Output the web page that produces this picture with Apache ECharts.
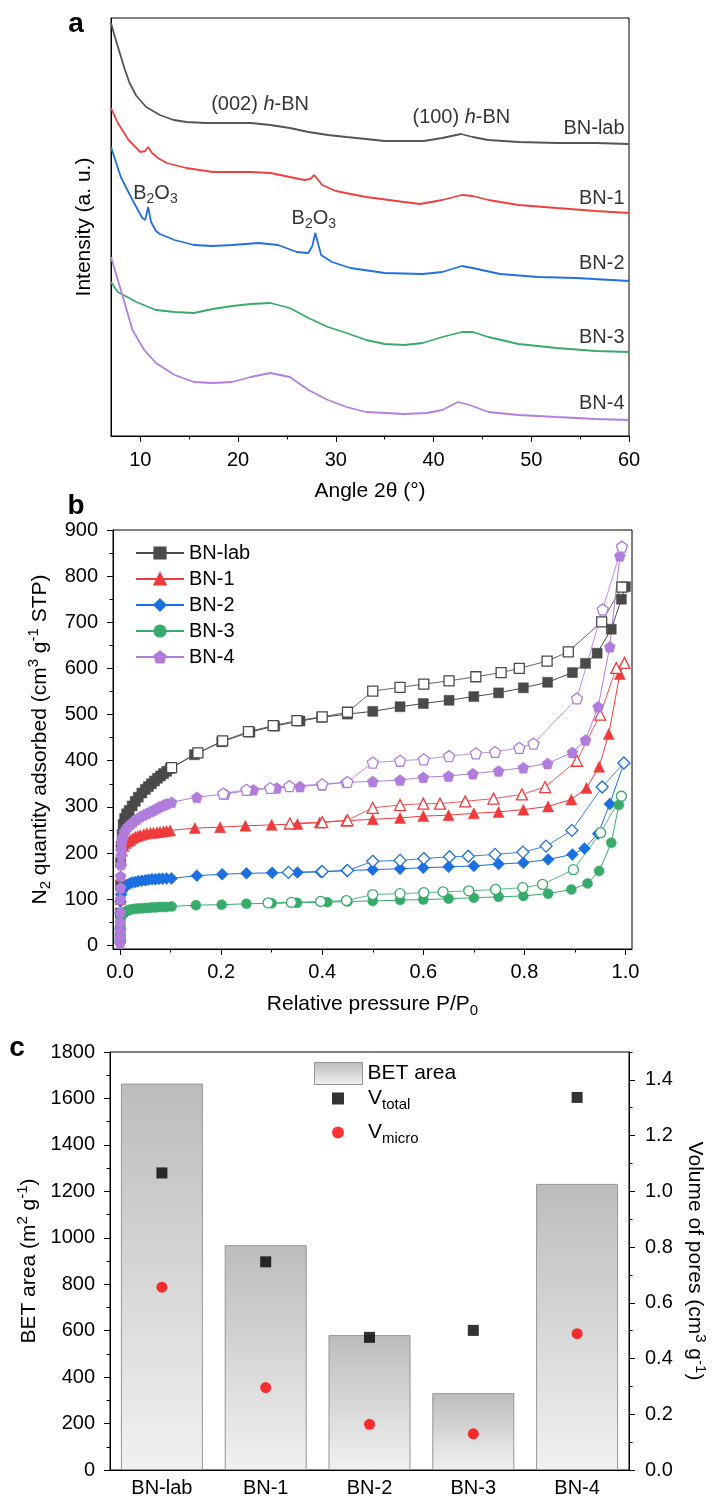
<!DOCTYPE html>
<html><head><meta charset="utf-8">
<script src="https://cdn.jsdelivr.net/npm/echarts@6/dist/echarts.min.js"></script>
<style>html,body{margin:0;padding:0;background:#fff}#c{width:712px;height:1497px}</style>
</head><body><div id="c"></div>
<script>
// ---------- Panel a: XRD patterns [angle 2θ, intensity (a.u.)] ----------
const xrdLab = [[7,413],[7.4,399],[7.9,383],[8.4,367],[8.9,353],[9.6,340],[10.6,329],[12,321],[13.4,316],[14.7,314],[16.7,313],[19.4,313],[21.3,313],[23.3,311],[25.3,308],[27.2,304],[29.2,301],[31.1,299],[33.1,297],[35,295],[37,295],[39,295],[40.9,298],[42.8,302],[44,299],[45.6,296],[48.7,294],[52.6,293],[56.6,293],[60,292]];
const xrd1 = [[7,328],[7.7,313],[8.8,296],[10,284],[10.5,285],[10.8,289],[11.2,283],[11.8,278],[12.7,273],[14.7,268],[17.4,264],[21.3,264],[23.3,263],[25.3,259],[26.8,256],[27.4,257],[27.8,261],[28.2,256],[28.6,251],[30,245],[33.1,239],[37,234],[38.6,232],[40.9,236],[42.9,241],[44,240],[45.6,236],[48.7,231],[52.6,228],[56.6,225],[60,223]];
const xrd2 = [[7,289],[8,259],[9.2,236],[10.2,218],[10.5,216],[10.8,229],[11.1,214],[11.6,205],[12,202],[13.5,196],[15.5,191],[17.4,190],[19.4,191],[22.1,193],[24.1,191],[26,184],[27.2,183],[27.6,190],[27.9,203],[28.2,192],[28.5,181],[29.6,174],[31.5,168],[35,163],[38.9,162],[40.9,164],[42.9,170],[44,168],[46.8,162],[50.7,159],[54.6,158],[60,155]];
const xrd3 = [[7,154],[7.7,144],[9.6,134],[11.6,126],[13.5,124],[15.5,123],[17.4,127],[19.4,130],[21.3,132],[23.3,133],[25.3,128],[27.2,118],[29.2,109],[31.1,103],[33.1,96],[35,92],[37,91],[38.9,93],[40.9,99],[42.9,104],[44,104],[45.6,99],[48.7,92],[52.6,88],[56.6,85],[60,84]];
const xrd4 = [[7,179],[7.7,156],[8.4,133],[9.2,106],[10.4,86],[11.6,73],[13.5,61],[15.5,54],[17.4,53],[19.4,54],[21.3,59],[23.3,63],[25.3,59],[27.2,46],[29.2,36],[31.1,29],[33.1,24],[37,22],[39.3,23],[40.9,26],[42.5,34],[43.7,31],[45.6,24],[48.7,21],[52.6,19],[56.6,17],[60,16]];
const xrdTicks = [10,20,30,40,50,60];
const xrdMinorTicks = [15,25,35,45,55];
const xrdNotes = [
  {text:'(002) {i|h}-BN', x:22.3, y:331, align:'center'},
  {text:'(100) {i|h}-BN', x:42.9, y:318, align:'center'},
  {text:'BN-lab', x:59.6, y:307, align:'right'},
  {text:'BN-1', x:59.6, y:237, align:'right'},
  {text:'B{sub|2}O{sub|3}', x:11.6, y:242, align:'center'},
  {text:'B{sub|2}O{sub|3}', x:27.8, y:217, align:'center'},
  {text:'BN-2', x:59.6, y:172, align:'right'},
  {text:'BN-3', x:59.6, y:98, align:'right'},
  {text:'BN-4', x:59.6, y:32, align:'right'}
];

// ---------- Panel b: N2 isotherms [P/P0, quantity adsorbed] ----------
const adsLab = [[0.0001,20],[0.0003,70],[0.0006,130],[0.001,180],[0.002,215],[0.004,240],[0.006,262],[0.009,275],[0.013,285],[0.018,292],[0.024,302],[0.03,312],[0.036,321],[0.043,330],[0.05,338],[0.056,344],[0.062,350],[0.068,356],[0.074,362],[0.08,367],[0.086,372],[0.092,377],[0.099,383],[0.147,413],[0.201,441],[0.257,462],[0.306,475],[0.356,486],[0.399,494],[0.45,501],[0.5,507],[0.554,517],[0.6,524],[0.651,531],[0.7,539],[0.749,547],[0.798,558],[0.846,570],[0.895,591],[0.921,611],[0.944,633],[0.972,685],[0.992,750],[1.0,777]];
const desLab = [[0.993,776],[0.953,701],[0.887,636],[0.845,616],[0.79,600],[0.754,591],[0.704,582],[0.651,573],[0.601,566],[0.554,559],[0.5,551],[0.45,505],[0.4,495],[0.35,487],[0.303,476],[0.254,463],[0.203,443],[0.154,417],[0.102,385]];
const ads1 = [[0.0001,15],[0.0003,50],[0.0006,100],[0.001,150],[0.002,185],[0.004,205],[0.007,215],[0.01,221],[0.015,225],[0.02,228],[0.025,232],[0.03,235],[0.035,237],[0.04,239],[0.047,241],[0.053,243],[0.06,244],[0.066,244],[0.073,245],[0.079,246],[0.086,247],[0.092,248],[0.099,249],[0.148,254],[0.198,256],[0.248,259],[0.3,261],[0.351,263],[0.395,266],[0.447,270],[0.5,273],[0.554,276],[0.6,280],[0.65,282],[0.7,286],[0.749,289],[0.798,294],[0.847,301],[0.893,316],[0.923,341],[0.948,387],[0.967,458],[0.989,588],[0.998,612]];
const des1 = [[0.998,612],[0.982,601],[0.95,500],[0.904,400],[0.841,343],[0.795,327],[0.739,318],[0.683,312],[0.633,307],[0.6,307],[0.554,304],[0.5,298],[0.45,271],[0.4,267],[0.336,264]];
const ads2 = [[0.0001,10],[0.0003,35],[0.0006,70],[0.001,95],[0.002,110],[0.004,118],[0.007,123],[0.01,127],[0.014,131],[0.019,134],[0.024,136],[0.03,137],[0.036,139],[0.043,140],[0.05,141],[0.056,142],[0.063,143],[0.07,143],[0.077,144],[0.084,144],[0.092,145],[0.102,145],[0.152,151],[0.202,154],[0.25,156],[0.301,157],[0.351,158],[0.397,159],[0.448,162],[0.5,164],[0.554,166],[0.6,168],[0.65,170],[0.7,172],[0.749,176],[0.798,179],[0.847,186],[0.895,197],[0.919,210],[0.946,242],[0.969,306],[0.997,395]];
const des2 = [[0.997,395],[0.954,343],[0.894,249],[0.843,215],[0.797,202],[0.742,197],[0.689,193],[0.652,192],[0.601,188],[0.554,184],[0.5,182],[0.45,162],[0.4,160],[0.333,158]];
const ads3 = [[0.0001,8],[0.0003,25],[0.0006,45],[0.001,58],[0.002,64],[0.004,67],[0.007,69],[0.01,72],[0.014,75],[0.019,77],[0.024,78],[0.03,79],[0.036,80],[0.043,80],[0.05,81],[0.056,81],[0.063,82],[0.07,82],[0.077,83],[0.084,83],[0.092,83],[0.102,84],[0.15,87],[0.201,88],[0.25,90],[0.3,91],[0.35,92],[0.41,93.5],[0.45,95],[0.5,96],[0.554,98],[0.6,99],[0.65,101],[0.7,103],[0.749,105],[0.798,107],[0.847,112],[0.893,121],[0.925,134],[0.948,161],[0.972,222],[0.987,304],[0.992,323]];
const des3 = [[0.992,323],[0.951,244],[0.897,164],[0.836,132],[0.797,125],[0.743,121],[0.69,118],[0.639,116],[0.601,114],[0.554,112],[0.5,110],[0.448,97],[0.397,95],[0.339,93],[0.293,92]];
const ads4 = [[0.00005,5],[0.0001,15],[0.0002,32],[0.0003,50],[0.0004,72],[0.0006,100],[0.0008,125],[0.001,150],[0.0015,175],[0.002,195],[0.0025,208],[0.003,220],[0.004,228],[0.005,235],[0.008,245],[0.012,252],[0.016,258],[0.021,263],[0.026,268],[0.033,273],[0.04,279],[0.047,283],[0.053,286],[0.06,290],[0.066,293],[0.073,297],[0.079,301],[0.086,304],[0.092,307],[0.102,310],[0.152,321],[0.208,328],[0.264,337],[0.31,341],[0.356,344],[0.399,348],[0.447,353],[0.5,355],[0.554,358],[0.6,364],[0.65,367],[0.698,372],[0.749,378],[0.798,385],[0.846,394],[0.895,418],[0.921,445],[0.946,517],[0.969,647],[0.989,844],[0.993,864]];
const des4 = [[0.993,864],[0.955,728],[0.904,535],[0.818,437],[0.79,428],[0.742,419],[0.704,416],[0.651,410],[0.601,403],[0.554,400],[0.5,396],[0.45,354],[0.4,349],[0.335,345],[0.297,341],[0.25,337],[0.204,329]];
const isoXTicks = [0,0.2,0.4,0.6,0.8,1.0];
const isoXMinor = [0.1,0.3,0.5,0.7,0.9];
const isoYTicks = [0,100,200,300,400,500,600,700,800,900];
const isoYMinor = [50,150,250,350,450,550,650,750,850];

// ---------- Panel c: BET area and pore volumes ----------
const samples = ['BN-lab','BN-1','BN-2','BN-3','BN-4'];
const betArea = [1664, 968, 581, 331, 1232];
const vTotal = [1.066, 0.747, 0.476, 0.501, 1.337];
const vMicro = [0.656, 0.296, 0.164, 0.130, 0.489];
const volTicks = [0,0.2,0.4,0.6,0.8,1.0,1.2,1.4];
const volMinor = [0.1,0.3,0.5,0.7,0.9,1.1,1.3,1.5];

// ---------- styling ----------
const FONT = '"Liberation Sans", Arial, sans-serif';
const BLACK = '#000';
const FS = 20;
const colors = {lab:'#4a4a4a', b1:'#ee3b3b', b2:'#1b6fe0', b3:'#37ab6b', b4:'#b07ddc'};
const xrdColors = {lab:'#555555', b1:'#ef4040', b2:'#2170de', b3:'#3aaa6a', b4:'#b27fe0'};
const pentagon = 'path://M0,-1 L0.951,-0.309 L0.588,0.809 L-0.588,0.809 L-0.951,-0.309 Z';
const richBase = (fs) => ({
  sub: {fontSize: Math.round(fs*0.7), fontFamily: FONT, color: BLACK, padding:[Math.round(fs*0.55),0,0,0]},
  sup: {fontSize: Math.round(fs*0.7), fontFamily: FONT, color: BLACK, padding:[0,0,Math.round(fs*0.55),0]},
  i: {fontSize: fs, fontFamily: FONT, fontStyle:'italic', color: BLACK}
});

function valAxis(o) {
  const major = o.ticks, minorOnly = o.minorOnly;
  const ax = {
    type:'value', gridIndex:o.grid, min:o.min, max:o.max, position:o.position,
    axisLine:{show:!minorOnly, onZero:false, lineStyle:{color:BLACK, width:1}},
    axisTick:{show:o.showTick !== false, customValues: major, length: minorOnly ? 3.5 : 6, inside:false, lineStyle:{color:BLACK, width:1}},
    axisLabel:{show:!minorOnly && o.showLabel !== false, customValues: major, margin:o.margin || 14, fontSize:o.fs || FS, fontFamily:FONT, color:BLACK, formatter:o.fmt},
    splitLine:{show:false}
  };
  if (o.name) {
    ax.name = o.name; ax.nameLocation = 'middle'; ax.nameGap = o.nameGap;
    if (o.nameRotate !== undefined) ax.nameRotate = o.nameRotate;
    ax.nameTextStyle = {fontSize:o.nfs || FS, fontFamily:FONT, color:BLACK, rich: richBase(o.nfs || FS)};
  }
  return ax;
}

const xAxes = [
  valAxis({grid:0, min:7, max:60, position:'bottom', ticks:xrdTicks, margin:14, name:'Angle 2θ (°)', nameGap:45, nfs:21}),
  valAxis({grid:0, min:7, max:60, position:'bottom', ticks:xrdMinorTicks, minorOnly:true}),
  valAxis({grid:1, min:-0.014, max:1.013, position:'bottom', ticks:isoXTicks, margin:13, fmt:v=>v.toFixed(1), name:'Relative pressure P/P{sub|0}', nameGap:42, nfs:21}),
  valAxis({grid:1, min:-0.014, max:1.013, position:'bottom', ticks:isoXMinor, minorOnly:true}),
  {type:'category', gridIndex:2, data:samples, position:'bottom', boundaryGap:true,
   axisLine:{onZero:false, lineStyle:{color:BLACK, width:1}}, axisTick:{show:false},
   axisLabel:{margin:8, fontSize:FS, fontFamily:FONT, color:BLACK}}
];
const yAxes = [
  valAxis({grid:0, min:0, max:418, position:'left', ticks:[], showTick:false, showLabel:false, name:'Intensity (a. u.)', nameGap:16, nfs:21}),
  valAxis({grid:1, min:-8, max:900, position:'left', ticks:isoYTicks, margin:15, name:'N{sub|2} quantity adsorbed (cm{sup|3} g{sup|-1} STP)', nameGap:50, nfs:21}),
  valAxis({grid:1, min:-8, max:900, position:'left', ticks:isoYMinor, minorOnly:true}),
  {type:'value', gridIndex:2, min:0, max:1800, interval:200, position:'left',
   axisLine:{show:true, onZero:false, lineStyle:{color:BLACK, width:1}},
   axisTick:{show:true, length:6, lineStyle:{color:BLACK}},
   minorTick:{show:true, splitNumber:2, length:3.5, lineStyle:{color:BLACK}},
   axisLabel:{margin:15, fontSize:FS, fontFamily:FONT, color:BLACK, formatter:v=>String(v)},
   splitLine:{show:false},
   name:'BET area (m{sup|2} g{sup|-1})', nameLocation:'middle', nameGap:65,
   nameTextStyle:{fontSize:21, fontFamily:FONT, color:BLACK, rich:richBase(21)}},
  valAxis({grid:2, min:0, max:1.5, position:'right', ticks:volTicks, margin:16, fmt:v=>v.toFixed(1), name:'Volume of pores (cm{sup|3} g{sup|-1})', nameGap:52, nfs:21, nameRotate:-90}),
  valAxis({grid:2, min:0, max:1.5, position:'right', ticks:volMinor, minorOnly:true})
];

function xrdSeries(name, data, color) {
  return {name:name, type:'line', xAxisIndex:0, yAxisIndex:0, data:data, showSymbol:false, symbol:'none',
    lineStyle:{color:color, width:1.8}, itemStyle:{color:color}, silent:true, z:2};
}
function isoSeries(name, data, color, symbol, size, open) {
  return {name:name, type:'line', xAxisIndex:2, yAxisIndex:1, data:data, symbol:symbol, symbolSize:size,
    showSymbol:true, showAllSymbol:true, silent:true,
    lineStyle:{color:color, width:1, opacity: open ? 0.85 : 1},
    itemStyle: open ? {color:'#fff', borderColor:color, borderWidth:1.3} : {color:color, borderColor:color, borderWidth:0.5}};
}

const barGrad = new echarts.graphic.LinearGradient(0,0,0,1,[{offset:0,color:'#bcbcbc'},{offset:1,color:'#f1f1f1'}]);

const series = [
  xrdSeries('XRD BN-lab', xrdLab, xrdColors.lab),
  xrdSeries('XRD BN-1', xrd1, xrdColors.b1),
  xrdSeries('XRD BN-2', xrd2, xrdColors.b2),
  xrdSeries('XRD BN-3', xrd3, xrdColors.b3),
  xrdSeries('XRD BN-4', xrd4, xrdColors.b4),
  {name:'xrd notes', type:'scatter', xAxisIndex:0, yAxisIndex:0, symbolSize:1, silent:true,
   itemStyle:{color:'rgba(0,0,0,0)'},
   label:{show:true, position:[0,0], verticalAlign:'middle', fontSize:FS, fontFamily:FONT, color:BLACK, rich:richBase(FS)},
   data: xrdNotes.map(n => ({value:[n.x, n.y], label:{formatter:n.text, align:n.align}}))},
  isoSeries('BN-lab', adsLab, colors.lab, 'rect', 10, false),
  isoSeries('BN-lab des', desLab, colors.lab, 'rect', 10, true),
  isoSeries('BN-1', ads1, colors.b1, 'triangle', 11, false),
  isoSeries('BN-1 des', des1, colors.b1, 'triangle', 11, true),
  isoSeries('BN-2', ads2, colors.b2, 'diamond', 12, false),
  isoSeries('BN-2 des', des2, colors.b2, 'diamond', 12, true),
  isoSeries('BN-3', ads3, colors.b3, 'circle', 10, false),
  isoSeries('BN-3 des', des3, colors.b3, 'circle', 10, true),
  isoSeries('BN-4', ads4, colors.b4, pentagon, 11, false),
  isoSeries('BN-4 des', des4, colors.b4, pentagon, 11, true),
  {name:'BET area', type:'bar', xAxisIndex:4, yAxisIndex:3, data:betArea, barWidth:'79%', silent:true,
   itemStyle:{color:barGrad, borderColor:'#959595', borderWidth:1}},
  {name:'V_total', type:'scatter', xAxisIndex:4, yAxisIndex:4, data:vTotal, symbol:'rect', symbolSize:11, silent:true,
   itemStyle:{color:'#000'}},
  {name:'V_micro', type:'scatter', xAxisIndex:4, yAxisIndex:4, data:vMicro, symbol:'circle', symbolSize:11, silent:true,
   itemStyle:{color:'#ff0000'}}
];

const gridBase = {show:true, borderColor:BLACK, borderWidth:1, backgroundColor:'transparent', containLabel:false, outerBoundsMode:'none'};
const option = {
  animation:false,
  backgroundColor:'#fff',
  textStyle:{fontFamily:FONT},
  grid:[
    Object.assign({left:111, right:83, top:18, height:418}, gridBase),
    Object.assign({left:113, right:80, top:530, height:419}, gridBase),
    Object.assign({left:110, right:83, top:1052, height:418}, gridBase)
  ],
  xAxis:xAxes,
  yAxis:yAxes,
  legend:[
    {data:['BN-lab','BN-1','BN-2','BN-3','BN-4'], orient:'vertical', left:135, top:543, padding:0, itemWidth:48, itemHeight:14, itemGap:6,
     selectedMode:false, textStyle:{fontSize:FS, fontFamily:FONT, color:BLACK, lineHeight:20}},
    {data:['BET area'], left:314, top:1062, padding:0, itemWidth:48, itemHeight:22, icon:'rect', selectedMode:false,
     itemStyle:{borderColor:'#959595', borderWidth:1},
     textStyle:{fontSize:21, fontFamily:FONT, color:BLACK}},
    {data:['V_total','V_micro'], orient:'vertical', left:332, top:1088, padding:0, itemWidth:12, itemHeight:12, itemGap:10, selectedMode:false,
     formatter: n => n === 'V_total' ? 'V{sub|total}' : 'V{sub|micro}',
     textStyle:{fontSize:21, fontFamily:FONT, color:BLACK, padding:[0,0,0,19], rich:richBase(21)}}
  ],
  graphic:[
    {type:'text', x:76, y:24, style:{text:'a', font:'bold 28px "Liberation Sans", Arial, sans-serif', fill:BLACK, align:'center', verticalAlign:'middle'}},
    {type:'text', x:76, y:506, style:{text:'b', font:'bold 28px "Liberation Sans", Arial, sans-serif', fill:BLACK, align:'center', verticalAlign:'middle'}},
    {type:'text', x:17, y:1048, style:{text:'c', font:'bold 28px "Liberation Sans", Arial, sans-serif', fill:BLACK, align:'center', verticalAlign:'middle'}}
  ],
  series:series
};

const chart = echarts.init(document.getElementById('c'), null, {renderer:'canvas', width:712, height:1497});
chart.setOption(option);
</script></body></html>
